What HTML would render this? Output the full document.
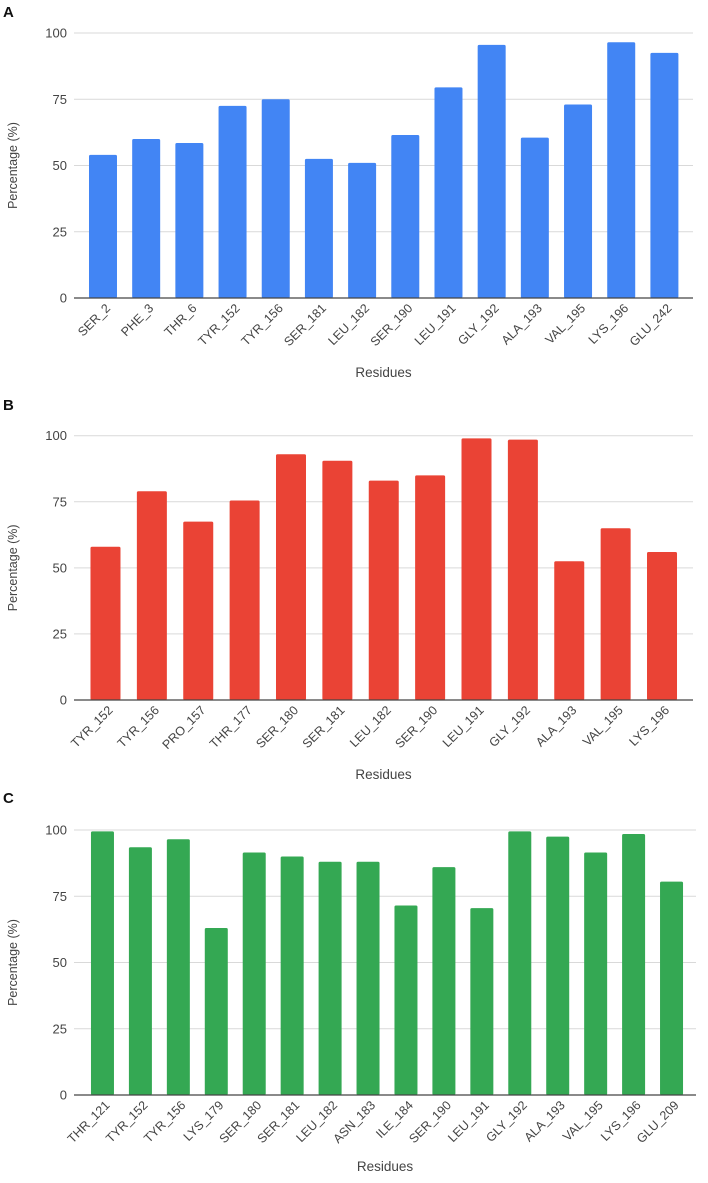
<!DOCTYPE html>
<html><head><meta charset="utf-8">
<style>
html,body{margin:0;padding:0;background:#fff;}
svg{display:block;font-family:"Liberation Sans",Arial,sans-serif;}
</style></head>
<body>
<svg id="fig" width="708" height="1183" viewBox="0 0 708 1183" xmlns="http://www.w3.org/2000/svg"></svg>
<script>
const catsA = ["SER_2","PHE_3","THR_6","TYR_152","TYR_156","SER_181","LEU_182","SER_190","LEU_191","GLY_192","ALA_193","VAL_195","LYS_196","GLU_242"];
const valsA = [54,60,58.5,72.5,75,52.5,51,61.5,79.5,95.5,60.5,73,96.5,92.5];
const catsB = ["TYR_152","TYR_156","PRO_157","THR_177","SER_180","SER_181","LEU_182","SER_190","LEU_191","GLY_192","ALA_193","VAL_195","LYS_196"];
const valsB = [58,79,67.5,75.5,93,90.5,83,85,99,98.5,52.5,65,56];
const catsC = ["THR_121","TYR_152","TYR_156","LYS_179","SER_180","SER_181","LEU_182","ASN_183","ILE_184","SER_190","LEU_191","GLY_192","ALA_193","VAL_195","LYS_196","GLU_209"];
const valsC = [99.5,93.5,96.5,63,91.5,90,88,88,71.5,86,70.5,99.5,97.5,91.5,98.5,80.5];
const yTicks = [0,25,50,75,100];

const NS = "http://www.w3.org/2000/svg";
const svg = document.getElementById('fig');
function mk(tag, attrs, parent){
  const e = document.createElementNS(NS, tag);
  for (const k in attrs) e.setAttribute(k, attrs[k]);
  (parent||svg).appendChild(e);
  return e;
}
function panel(id, letter, letterY, cats, vals, color, top, bottom, left, right, bl, br, bw, resY){
  const g = mk('g', {});
  
  
  const yS = v => bottom - (v/100)*(bottom-top);
  const step = (br-bl)/cats.length;
  const xC = i => bl + step*(i+0.5);
  const pl = mk('text', {x:3, y:letterY, 'font-size':15, 'font-weight':'bold', fill:'#111'}, g);
  pl.textContent = letter;
  
  
  yTicks.forEach(t => {
    const y = yS(t);
    if (t > 0) {
      const gl = mk('line', {x1:left, x2:right, y1:y, y2:y, stroke:'#d9d9d9', 'stroke-width':1}, g);
      
      
    }
    const tl = mk('text', {x:left-7, y:y+4.5, 'font-size':13, fill:'#444', 'text-anchor':'end'}, g);
    tl.textContent = t;
    
    
  });
  cats.forEach((c, i) => {
    const y = yS(vals[i]);
    const r = mk('rect', {x:xC(i)-bw/2, y:y, width:bw, height:bottom-y, fill:color, rx:1.5}, g);
    
    
    const tx = xC(i)+8, ty = bottom+11;
    const lb = mk('text', {x:tx, y:ty, 'font-size':12.5, fill:'#444', 'text-anchor':'end', transform:'rotate(-45 '+tx+' '+ty+')'}, g);
    lb.textContent = c;
    
    
  });
  const ax = mk('line', {x1:left, x2:right, y1:bottom, y2:bottom, stroke:'#444', 'stroke-width':1.3}, g);
  
  
  const yt = mk('text', {x:0, y:0, 'font-size':12.5, fill:'#444', 'text-anchor':'middle', transform:'translate(17 '+((top+bottom)/2)+') rotate(-90)'}, g);
  yt.textContent = 'Percentage (%)';
  
  
  const xt = mk('text', {x:(left+right)/2, y:resY, 'font-size':13.5, fill:'#444', 'text-anchor':'middle'}, g);
  xt.textContent = 'Residues';
  
  
}
panel('a', 'A', 17, catsA, valsA, '#4285f4', 33, 298, 74, 693, 81.4, 686, 28, 377);
panel('b', 'B', 410, catsB, valsB, '#ea4335', 435.7, 700, 74, 693, 82.3, 685.2, 30, 779);
panel('c', 'C', 803, catsC, valsC, '#34a853', 830, 1095, 74, 696, 83.5, 690.5, 23, 1171);
</script>
</body></html>
